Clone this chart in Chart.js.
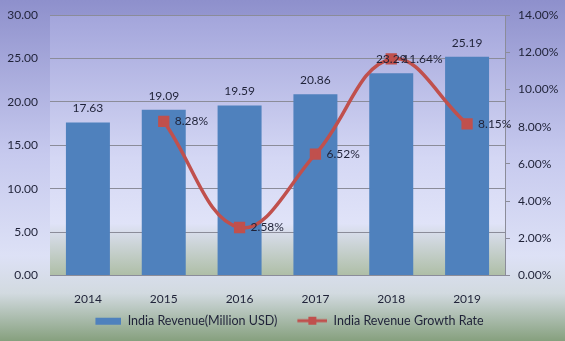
<!DOCTYPE html>
<html>
<head>
<meta charset="utf-8">
<script src="https://cdn.jsdelivr.net/npm/chart.js@4/dist/chart.umd.min.js"></script>
<style>
  html, body { margin: 0; padding: 0; background: #c8cbee; }
  #wrap { width: 565px; height: 341px; }
</style>
</head>
<body>
<div id="wrap"><canvas id="chart" width="565" height="341"></canvas></div>
<script>
const years = ["2014", "2015", "2016", "2017", "2018", "2019"]
const revenue = [17.63, 19.09, 19.59, 20.86, 23.29, 25.19]
const growth = [null, 8.28, 2.58, 6.52, 11.64, 8.15]

const textColor = "#1f2238"
const gridColor = "#8b8c99"
const font = { family: "Lato", size: 12 }

// legend icons, 40px wide, drawn flush right so the gap between items looks like the original
function makeIcon(kind) {
  const c = document.createElement("canvas")
  c.width = 40
  c.height = 10
  const g = c.getContext("2d")
  if (kind === "bar") {
    g.fillStyle = "#4f81bd"
    g.fillRect(14, 2, 26, 7)
  } else {
    g.strokeStyle = "#c0504d"
    g.lineWidth = 3
    g.beginPath()
    g.moveTo(10, 5)
    g.lineTo(40, 5)
    g.stroke()
    g.fillStyle = "#c0504d"
    g.fillRect(21, 1, 8, 8)
  }
  return c
}

const background = {
  id: "background",
  beforeDraw(chart) {
    const ctx = chart.ctx
    const a = chart.chartArea
    let g = ctx.createLinearGradient(0, 0, 0, chart.height)
    g.addColorStop(0, "#8e90cc")
    g.addColorStop(0.45, "#c6c9ee")
    g.addColorStop(0.75, "#dde1f6")
    g.addColorStop(0.86, "#d2dae0")
    g.addColorStop(1, "#86a07e")
    ctx.save()
    ctx.fillStyle = g
    ctx.fillRect(0, 0, chart.width, chart.height)
    g = ctx.createLinearGradient(0, a.top, 0, a.bottom)
    g.addColorStop(0, "#a3a5db")
    g.addColorStop(0.55, "#d4d7f4")
    g.addColorStop(0.8, "#e0e3f8")
    g.addColorStop(1, "#aebea6")
    ctx.fillStyle = g
    ctx.fillRect(a.left, a.top, a.right - a.left, a.bottom - a.top)
    ctx.restore()
  },
}

const valueLabels = {
  id: "valueLabels",
  afterDatasetsDraw(chart) {
    const ctx = chart.ctx
    ctx.save()
    ctx.font = "12px Lato"
    ctx.fillStyle = textColor
    ctx.textBaseline = "middle"
    chart.getDatasetMeta(0).data.forEach((bar, i) => {
      ctx.textAlign = "center"
      ctx.fillText(revenue[i].toFixed(2), bar.x, bar.y - 14)
    })
    chart.getDatasetMeta(1).data.forEach((pt, i) => {
      if (growth[i] === null) return
      ctx.textAlign = "left"
      ctx.fillText(growth[i].toFixed(2) + "%", pt.x + 11, pt.y)
    })
    ctx.restore()
  },
}

// fixed axis sizes, no extra room for half labels
function fixY(width) {
  return (s) => {
    s.width = width
    s.paddingTop = 0
    s.paddingBottom = 0
  }
}

const config = {
  data: {
    labels: years,
    datasets: [
      {
        type: "bar",
        label: "India Revenue(Million USD)",
        data: revenue,
        backgroundColor: "#4f81bd",
        yAxisID: "y",
        categoryPercentage: 1,
        barPercentage: 0.58,
        order: 2,
      },
      {
        type: "line",
        label: "India Revenue Growth Rate",
        data: growth,
        borderColor: "#c0504d",
        backgroundColor: "#c0504d",
        borderWidth: 3.5,
        tension: 0.4,
        pointStyle: "rect",
        pointRadius: 5.5,
        pointBackgroundColor: "#c0504d",
        pointBorderColor: "#c0504d",
        yAxisID: "y1",
        order: 1,
      },
    ],
  },
  options: {
    responsive: false,
    animation: false,
    layout: { padding: { top: 15, bottom: 4 } },
    scales: {
      x: {
        grid: { display: false, drawTicks: false },
        border: { display: true, color: gridColor },
        ticks: { color: textColor, font: font, padding: 16 },
        afterFit: (s) => { s.height = 29 },
      },
      y: {
        position: "left",
        min: 0,
        max: 30,
        grid: { color: gridColor, drawTicks: false },
        border: { display: false },
        ticks: {
          stepSize: 5,
          color: textColor,
          font: font,
          padding: 12,
          callback: (v) => v.toFixed(2),
        },
        afterFit: fixY(50),
      },
      y1: {
        position: "right",
        min: 0,
        max: 14,
        grid: { drawOnChartArea: false, color: gridColor, tickLength: 5 },
        border: { display: true, color: gridColor },
        ticks: {
          stepSize: 2,
          color: textColor,
          font: font,
          padding: 8,
          callback: (v) => v.toFixed(2) + "%",
        },
        afterFit: fixY(60),
      },
    },
    plugins: {
      tooltip: { enabled: false },
      legend: {
        position: "bottom",
        labels: {
          color: textColor,
          font: { family: "Lato", size: 12.5 },
          usePointStyle: true,
          pointStyleWidth: 40,
          boxHeight: 10,
          padding: 10,
          generateLabels(chart) {
            const items = Chart.defaults.plugins.legend.labels.generateLabels(chart)
            items.sort((a, b) => a.datasetIndex - b.datasetIndex)
            items.forEach((it) => {
              it.pointStyle = makeIcon(it.datasetIndex === 0 ? "bar" : "line")
            })
            return items
          },
        },
      },
    },
  },
  plugins: [background, valueLabels],
}

const chart = new Chart(document.getElementById("chart"), config)
</script>
</body>
</html>
